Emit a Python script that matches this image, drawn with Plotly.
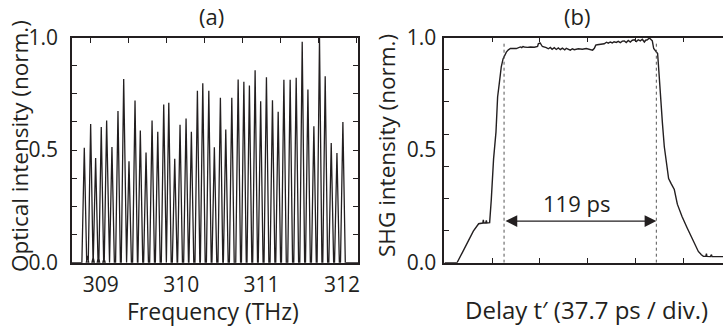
import plotly.graph_objects as go

# ---------------- Panel (a): optical comb spectrum ----------------
peak_freq_thz = [308.795, 308.874, 308.936, 309.006, 309.073, 309.139, 309.214, 309.285,
                 309.351, 309.426, 309.492, 309.563, 309.638, 309.709, 309.783, 309.846,
                 309.920, 309.986, 310.061, 310.127, 310.202, 310.269, 310.344, 310.413,
                 310.488, 310.555, 310.630, 310.709, 310.780, 310.849, 310.920, 310.989,
                 311.061, 311.136, 311.207, 311.278, 311.356, 311.431, 311.506, 311.577,
                 311.651, 311.721, 311.792, 311.867, 311.938, 312.012]
peak_intensity = [0.51, 0.616, 0.465, 0.603, 0.631, 0.514, 0.674, 0.816, 0.45, 0.72,
                  0.587, 0.489, 0.631, 0.581, 0.702, 0.71, 0.461, 0.613, 0.64, 0.581,
                  0.764, 0.797, 0.764, 0.513, 0.732, 0.591, 0.732, 0.813, 0.804, 0.787,
                  0.855, 0.717, 0.824, 0.721, 0.67, 0.812, 0.812, 0.821, 0.981, 0.769,
                  0.606, 1.0, 0.828, 0.532, 0.487, 0.625]
side_freq_thz = [308.835, 308.905, 308.971, 309.040]
side_intensity = [0.03, 0.025, 0.03, 0.02]
freq_range = [308.642, 312.2]
freq_ticks = [309, 310, 311, 312]

# ---------------- Panel (b): SHG autocorrelation ----------------
delay_ps = [0, 9.8, 14.0, 18.7, 22.7, 26.9, 29.0, 30.2, 30.6, 31.0, 32.5, 33.0, 33.4, 35.6,
            36.9, 38.7, 40.6, 41.9, 43.3, 44.8, 46.2, 47.2, 48.8, 50.4, 52.0, 56.7, 57.5,
            59.9, 61.0, 62.0, 63.0, 65.4, 67.8, 70.9, 73.5, 74.1, 75.5, 77.3, 80.4, 82.0,
            83.6, 85.0, 86.7, 88.3, 89.9, 91.5, 93.1, 95.0, 96.2, 99.4, 101.0, 102.5,
            105.7, 108.9, 112.0, 115.2, 117.0, 118.4, 119.5, 120.7, 123.1, 126.2, 128.0,
            129.4, 131.0, 132.6, 134.0, 135.7, 137.3, 138.9, 140.5, 142.1, 143.6, 145.2,
            146.8, 148.4, 150.0, 151.6, 153.1, 154.7, 156.3, 157.9, 159.0, 160.3, 161.9,
            163.4, 164.2, 165.3, 166.6, 168.4, 169.4, 170.6, 172.2, 173.7, 175.3, 177.1,
            179.0, 181.6, 184.0, 187.7, 191.7, 195.6, 198.2, 200.6, 203.0, 204.6, 206.5,
            207.0, 207.4, 210.1, 211.0, 211.4, 220.4]
shg = [0.0, 0.0, 0.045, 0.095, 0.14, 0.173, 0.175, 0.176, 0.19, 0.176, 0.177, 0.188, 0.176,
       0.178, 0.28, 0.46, 0.58, 0.736, 0.8, 0.87, 0.905, 0.92, 0.935, 0.945, 0.951, 0.951,
       0.953, 0.958, 0.955, 0.96, 0.958, 0.956, 0.958, 0.957, 0.96, 0.972, 0.976, 0.96,
       0.955, 0.95, 0.956, 0.948, 0.955, 0.947, 0.954, 0.946, 0.953, 0.945, 0.952, 0.944,
       0.95, 0.946, 0.95, 0.948, 0.951, 0.946, 0.944, 0.952, 0.966, 0.968, 0.97, 0.972,
       0.979, 0.975, 0.98, 0.976, 0.981, 0.978, 0.983, 0.977, 0.984, 0.985, 0.978, 0.987,
       0.98, 0.988, 0.99, 0.982, 0.99, 0.985, 0.992, 0.98, 0.988, 0.99, 0.998, 0.99, 0.985,
       0.951, 0.94, 0.929, 0.85, 0.736, 0.62, 0.515, 0.44, 0.374, 0.352, 0.325, 0.26, 0.205,
       0.155, 0.11, 0.08, 0.05, 0.035, 0.028, 0.028, 0.04, 0.028, 0.027, 0.036, 0.027, 0.027]
fwhm_edges_ps = [47.0, 167.4]
fwhm_arrow_level = 0.185
fwhm_label = "119 ps"
delay_div_ps = 37.7
delay_range = [-0.25, 220.1]

# ---- build spectrum trace (narrow triangular comb lines) ----
half_width = 0.03
lines = sorted(list(zip(peak_freq_thz, peak_intensity)) +
               [(f, h) for f, h in zip(side_freq_thz, side_intensity)])
spec_x = [freq_range[0]]
spec_y = [0.0]
for f, h in lines:
    hw = half_width if h > 0.1 else 0.015
    spec_x += [f - hw, f, f + hw]
    spec_y += [0.0, h, 0.0]
spec_x.append(freq_range[1])
spec_y.append(0.0)

FONT = "Open Sans"
FS = 23
TFS = 21
INK = "#231f20"
W, H = 723, 327

fig = go.Figure()
fig.add_trace(go.Scatter(x=spec_x, y=spec_y, mode="lines", xaxis="x", yaxis="y",
                         line=dict(color=INK, width=1.3), showlegend=False, hoverinfo="skip"))
fig.add_trace(go.Scatter(x=delay_ps, y=shg, mode="lines", xaxis="x2", yaxis="y2",
                         line=dict(color=INK, width=1.4), showlegend=False, hoverinfo="skip"))
for t in fwhm_edges_ps:
    fig.add_trace(go.Scatter(x=[t, t], y=[0, 0.985], mode="lines", xaxis="x2", yaxis="y2",
                             line=dict(color="#555555", width=1, dash="dot"),
                             showlegend=False, hoverinfo="skip"))
fig.add_trace(go.Scatter(x=[], y=[], mode="lines", xaxis="x3", yaxis="y",
                         showlegend=False, hoverinfo="skip"))
fig.add_trace(go.Scatter(x=[], y=[], mode="lines", xaxis="x2", yaxis="y4",
                         showlegend=False, hoverinfo="skip"))

dom_a = [72 / W, 358 / W]
dom_b = [444.3 / W, 1.0]
dom_y = [1 - 262.7 / H, 1 - 37.5 / H]

tickfont = dict(family=FONT, size=TFS, color=INK)
axis_common = dict(showgrid=False, zeroline=False, linecolor=INK, linewidth=1.5,
                   tickcolor=INK, tickfont=tickfont)

fig.update_layout(
    width=W, height=H, autosize=False,
    margin=dict(l=0, r=0, t=0, b=0, pad=0, autoexpand=False),
    paper_bgcolor="white", plot_bgcolor="white",
    font=dict(family=FONT, size=FS, color=INK),
    xaxis=dict(domain=dom_a, range=freq_range, anchor="y", tickvals=freq_ticks,
               ticks="", showline=True, mirror=True, ticklabelstandoff=2, **axis_common),
    xaxis3=dict(overlaying="x", anchor="y", side="top", range=freq_range, tick0=308.874,
                dtick=0.473, ticks="inside", ticklen=5, showticklabels=False,
                showline=False, showgrid=False, zeroline=False, tickcolor=INK),
    yaxis=dict(domain=dom_y, range=[0, 1], anchor="x", dtick=0.5, tickformat=".1f",
               ticks="inside", ticklen=5, showline=True, mirror="ticks",
               minor=dict(dtick=0.125, ticks="inside", ticklen=5, tickcolor=INK),
               ticklabelstandoff=8, **axis_common),
    xaxis2=dict(domain=dom_b, range=delay_range, anchor="y2", tick0=0, dtick=delay_div_ps,
                ticks="inside", ticklen=5, showticklabels=False, showline=True,
                mirror="ticks", **axis_common),
    yaxis2=dict(domain=dom_y, range=[0, 1], anchor="x2", tick0=0, dtick=1 / 7,
                ticks="inside", ticklen=5, showticklabels=False, showline=True,
                mirror=False, **axis_common),
    yaxis4=dict(overlaying="y2", anchor="x2", side="left", range=[0, 1], dtick=0.5,
                tickformat=".1f", ticks="", showline=False, showgrid=False, zeroline=False,
                ticklabelstandoff=7, tickfont=tickfont),
)

def px_ann(text, x, y, size=FS, **kw):
    d = dict(text=text, x=x / W, y=1 - y / H, xref="paper", yref="paper", showarrow=False,
             xanchor="center", yanchor="middle", borderpad=0,
             font=dict(family=FONT, size=size, color=INK))
    d.update(kw)
    return d

ann = [
    px_ann("(a)", 211.7, 16.0, size=22),
    px_ann("(b)", 576.7, 16.0, size=22),
    px_ann("Optical intensity (norm.)", 19, 146, size=22.5, textangle=-90),
    px_ann("SHG intensity (norm.)", 386, 146, size=22.5, textangle=-90),
    px_ann("Frequency (THz)", 213, 310.5),
    px_ann("Delay t\u2032 (37.7 ps / div.)", 586, 309.5, size=24),
    dict(x=fwhm_edges_ps[1], y=fwhm_arrow_level, ax=fwhm_edges_ps[0], ay=fwhm_arrow_level,
         xref="x2", yref="y2", axref="x2", ayref="y2", text="", showarrow=True,
         arrowhead=2, startarrowhead=2, arrowside="end+start", arrowsize=1.8,
         startarrowsize=1.8, arrowwidth=1.3, arrowcolor=INK, standoff=0, startstandoff=0),
    dict(text=fwhm_label, x=sum(fwhm_edges_ps) / 2 - 3, y=0.265, xref="x2", yref="y2",
         showarrow=False, xanchor="center", yanchor="middle",
         font=dict(family=FONT, size=22, color=INK)),
]
fig.update_layout(annotations=ann)

fig.write_html("out.html")
